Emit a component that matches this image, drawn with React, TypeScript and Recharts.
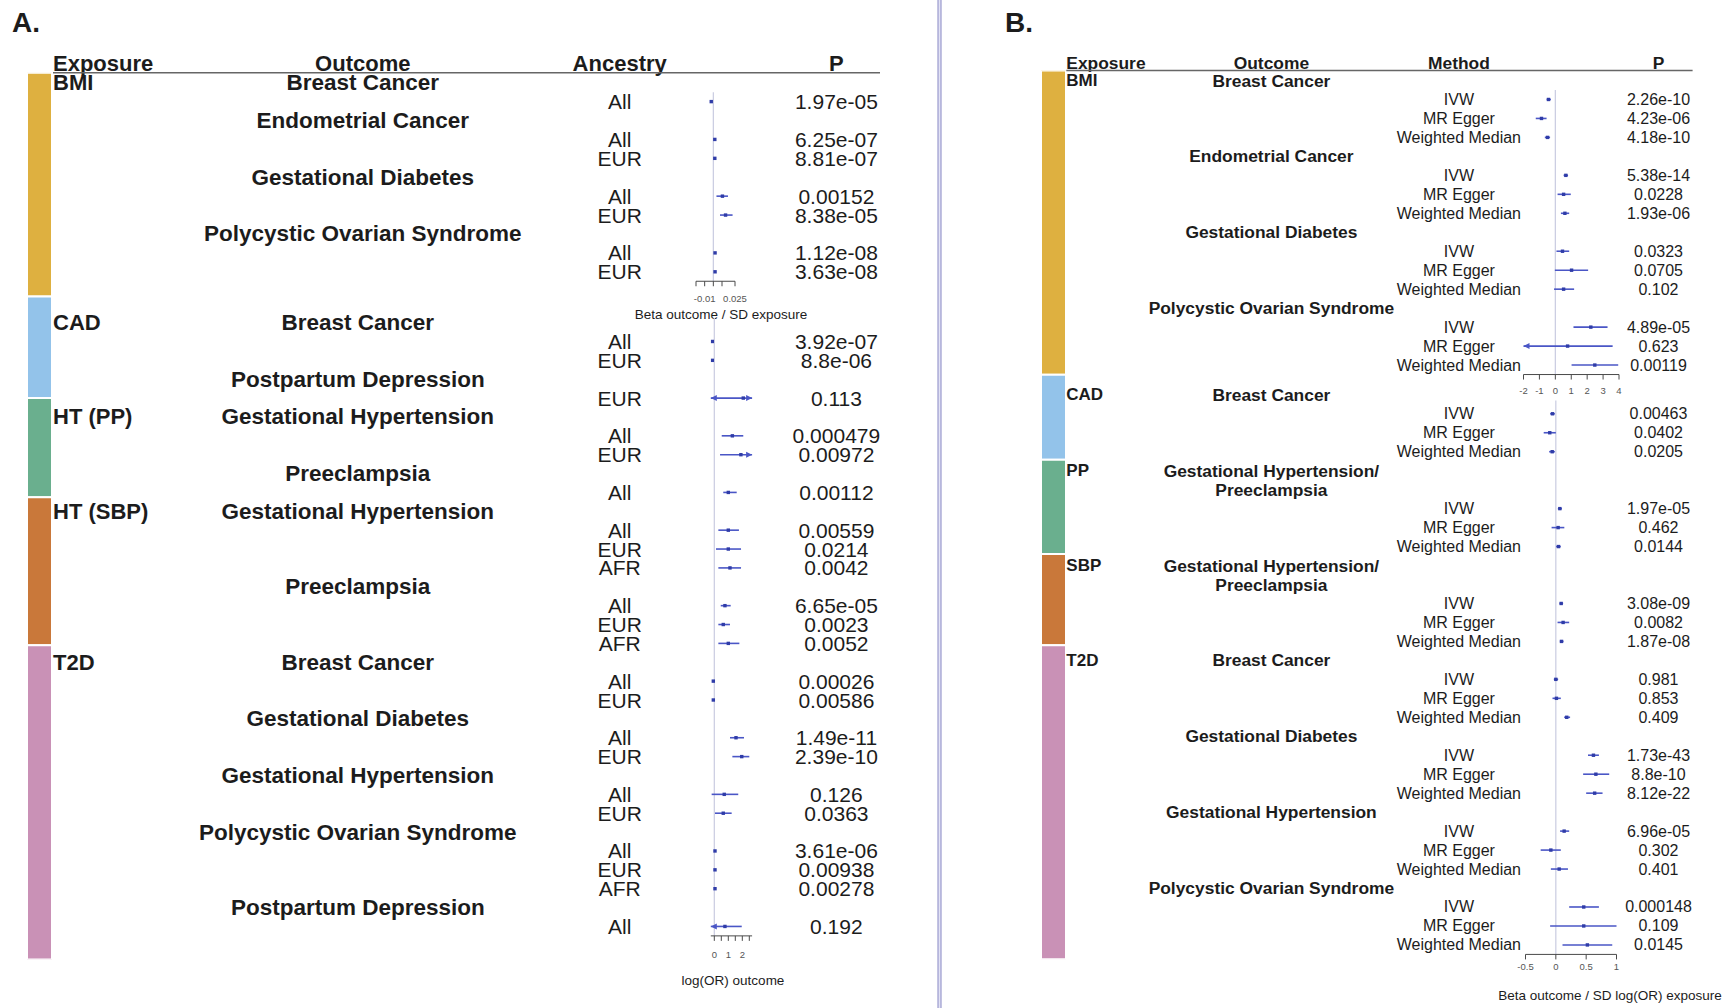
import React from 'react'
import { ScatterChart, Scatter, XAxis, YAxis, ErrorBar, ReferenceLine, BarChart, Bar } from 'recharts'

const W = 1729
const H = 1008
const FONT = '"Liberation Sans", Arial, Helvetica, sans-serif'
const INK = '#1c1c1c'
const CI_COLOR = '#4a56c6'
const DOT_COLOR = '#2f3ca8'
const ZERO_COLOR = '#c9cbe0'
const AXIS_COLOR = '#4a4a4a'

// ---- Panel A, BMI block (beta outcome / SD exposure)
const a1Labels = ['Breast Cancer', 'All', 'Endometrial Cancer', 'All', 'EUR', 'Gestational Diabetes', 'All', 'EUR', 'Polycystic Ovarian Syndrome', 'All', 'EUR']
const a1Beta = [null, -0.0024, null, 0.0017, 0.0017, null, 0.0105, 0.0141, null, 0.002, 0.002]
const a1Lo = [null, -0.0034, null, 0.0009, 0.0009, null, 0.0036, 0.0077, null, 0.0012, 0.0012]
const a1Hi = [null, -0.0014, null, 0.0025, 0.0025, null, 0.0169, 0.0222, null, 0.0028, 0.0028]
const a1P = ['', '1.97e-05', '', '6.25e-07', '8.81e-07', '', '0.00152', '8.38e-05', '', '1.12e-08', '3.63e-08']
const a1Exposure: [number, string][] = [[0, 'BMI']]
const a1Ticks = [-0.02, -0.01, 0, 0.01, 0.025]
const a1TickText = ['', '-0.01', '', '', '0.025']

// ---- Panel A, other exposures (log(OR) outcome)
const a2Labels = [
  'Breast Cancer', 'All', 'EUR', 'Postpartum Depression', 'EUR',
  'Gestational Hypertension', 'All', 'EUR', 'Preeclampsia', 'All',
  'Gestational Hypertension', 'All', 'EUR', 'AFR', 'Preeclampsia', 'All', 'EUR', 'AFR',
  'Breast Cancer', 'All', 'EUR', 'Gestational Diabetes', 'All', 'EUR',
  'Gestational Hypertension', 'All', 'EUR', 'Polycystic Ovarian Syndrome', 'All', 'EUR', 'AFR',
  'Postpartum Depression', 'All',
]
const a2Beta = [null, -0.14, -0.14, null, 2.07, null, 1.29, 1.9, null, 1.0, null, 1.0, 1.0, 1.12, null, 0.76, 0.64, 1.0, null, -0.07, -0.07, null, 1.55, 1.96, null, 0.71, 0.64, null, 0.05, 0.05, 0.05, null, 0.76]
const a2Lo = [null, -0.2, -0.2, null, -0.5, null, 0.53, 0.41, null, 0.64, null, 0.29, 0.12, 0.29, null, 0.46, 0.29, 0.29, null, -0.12, -0.13, null, 1.12, 1.29, null, -0.19, 0.05, null, 0.0, -0.01, 0.0, null, -0.6]
const a2Hi = [null, -0.08, -0.08, null, 4.6, null, 2.07, 3.4, null, 1.6, null, 1.76, 1.91, 1.91, null, 1.17, 1.12, 1.79, null, -0.02, -0.01, null, 2.12, 2.5, null, 1.71, 1.24, null, 0.1, 0.11, 0.1, null, 1.96]
const a2P = ['', '3.92e-07', '8.8e-06', '', '0.113', '', '0.000479', '0.00972', '', '0.00112', '', '0.00559', '0.0214', '0.0042', '', '6.65e-05', '0.0023', '0.0052', '', '0.00026', '0.00586', '', '1.49e-11', '2.39e-10', '', '0.126', '0.0363', '', '3.61e-06', '0.00938', '0.00278', '', '0.192']
const a2Exposure: [number, string][] = [[0, 'CAD'], [5, 'HT (PP)'], [10, 'HT (SBP)'], [18, 'T2D']]
const a2Ticks = [0, 0.5, 1, 1.5, 2, 2.5]
const a2TickText = ['0', '', '1', '', '2', '']

// ---- Panel B, BMI block
const b1Labels = ['Breast Cancer', 'IVW', 'MR Egger', 'Weighted Median', 'Endometrial Cancer', 'IVW', 'MR Egger', 'Weighted Median', 'Gestational Diabetes', 'IVW', 'MR Egger', 'Weighted Median', 'Polycystic Ovarian Syndrome', 'IVW', 'MR Egger', 'Weighted Median']
const b1Beta = [null, -0.43, -0.87, -0.49, null, 0.66, 0.52, 0.6, null, 0.45, 1.02, 0.52, null, 2.23, 0.77, 2.48]
const b1Lo = [null, -0.55, -1.23, -0.66, null, 0.52, 0.14, 0.35, null, 0.07, -0.03, -0.08, null, 1.14, -2.06, 1.02]
const b1Hi = [null, -0.28, -0.55, -0.33, null, 0.8, 0.97, 0.87, null, 0.87, 2.06, 1.18, null, 3.28, 3.6, 3.95]
const b1P = ['', '2.26e-10', '4.23e-06', '4.18e-10', '', '5.38e-14', '0.0228', '1.93e-06', '', '0.0323', '0.0705', '0.102', '', '4.89e-05', '0.623', '0.00119']
const b1Exposure: [number, string][] = [[0, 'BMI']]
const b1Ticks = [-2, -1, 0, 1, 2, 3, 4]
const b1TickText = ['-2', '-1', '0', '1', '2', '3', '4']

// ---- Panel B, other exposures
const b2Labels = [
  'Breast Cancer', 'IVW', 'MR Egger', 'Weighted Median',
  'Gestational Hypertension/', 'Preeclampsia', 'IVW', 'MR Egger', 'Weighted Median',
  'Gestational Hypertension/', 'Preeclampsia', 'IVW', 'MR Egger', 'Weighted Median',
  'Breast Cancer', 'IVW', 'MR Egger', 'Weighted Median',
  'Gestational Diabetes', 'IVW', 'MR Egger', 'Weighted Median',
  'Gestational Hypertension', 'IVW', 'MR Egger', 'Weighted Median',
  'Polycystic Ovarian Syndrome', 'IVW', 'MR Egger', 'Weighted Median',
]
const b2Beta = [null, -0.055, -0.1, -0.06, null, null, 0.066, 0.038, 0.044, null, null, 0.088, 0.12, 0.093, null, 0.0, 0.01, 0.18, null, 0.62, 0.66, 0.64, null, 0.137, -0.082, 0.055, null, 0.46, 0.46, 0.52]
const b2Lo = [null, -0.094, -0.2, -0.11, null, null, 0.033, -0.07, 0.005, null, null, 0.06, 0.028, 0.066, null, -0.033, -0.055, 0.137, null, 0.53, 0.45, 0.5, null, 0.07, -0.25, -0.082, null, 0.22, -0.094, 0.11]
const b2Hi = [null, -0.016, 0.0, -0.016, null, null, 0.1, 0.14, 0.082, null, null, 0.12, 0.22, 0.127, null, 0.038, 0.082, 0.235, null, 0.71, 0.88, 0.77, null, 0.22, 0.082, 0.2, null, 0.71, 1.0, 0.93]
const b2P = ['', '0.00463', '0.0402', '0.0205', '', '', '1.97e-05', '0.462', '0.0144', '', '', '3.08e-09', '0.0082', '1.87e-08', '', '0.981', '0.853', '0.409', '', '1.73e-43', '8.8e-10', '8.12e-22', '', '6.96e-05', '0.302', '0.401', '', '0.000148', '0.109', '0.0145']
const b2Exposure: [number, string][] = [[0, 'CAD'], [4, 'PP'], [9, 'SBP'], [14, 'T2D']]
const b2Ticks = [-0.5, 0, 0.5, 1]
const b2TickText = ['-0.5', '0', '0.5', '1']

// exposure colour bands (length in rows)
const bandColors = ['#deb040', '#93c3ea', '#6aaf8e', '#c9783a', '#c991b6']
const bandNamesA = ['BMI', 'CAD', 'HT (PP)', 'HT (SBP)', 'T2D']
const bandRowsA = [11.83, 5.37, 5.25, 7.82, 16.62]
const bandNamesB = ['BMI', 'CAD', 'PP', 'SBP', 'T2D']
const bandRowsB = [16.04, 4.48, 4.97, 4.8, 16.56]

type Block = {
  labels: string[]
  beta: (number | null)[]
  lo: (number | null)[]
  hi: (number | null)[]
  p: string[]
  exposure: [number, string][]
  ticks: number[]
  tickText: string[]
  domain: [number, number]
}

type Layout = {
  y0: number
  step: number
  height: number
  left: number
  right: number
  zeroFrom: number
  tickMargin: number
  cols: { exp: number; outcome: number; label: number; p: number }
  headSize: number
  expSize: number
  textSize: number
}

const blockA1: Block = { labels: a1Labels, beta: a1Beta, lo: a1Lo, hi: a1Hi, p: a1P, exposure: a1Exposure, ticks: a1Ticks, tickText: a1TickText, domain: [-0.02, 0.025] }
const blockA2: Block = { labels: a2Labels, beta: a2Beta, lo: a2Lo, hi: a2Hi, p: a2P, exposure: a2Exposure, ticks: a2Ticks, tickText: a2TickText, domain: [-0.25, 2.7] }
const blockB1: Block = { labels: b1Labels, beta: b1Beta, lo: b1Lo, hi: b1Hi, p: b1P, exposure: b1Exposure, ticks: b1Ticks, tickText: b1TickText, domain: [-2, 4] }
const blockB2: Block = { labels: b2Labels, beta: b2Beta, lo: b2Lo, hi: b2Hi, p: b2P, exposure: b2Exposure, ticks: b2Ticks, tickText: b2TickText, domain: [-0.5, 1] }

const colsA1 = { exp: 53, outcome: 362.8, label: 619.7, p: 836.4 }
const colsA2 = { exp: 53, outcome: 357.8, label: 619.7, p: 836.4 }
const colsB = { exp: 1066.3, outcome: 1271.4, label: 1458.9, p: 1658.5 }

const layA1: Layout = { y0: 82.7, step: 18.91, height: 330, left: 696, right: 735, zeroFrom: 0.5, tickMargin: 9, cols: colsA1, headSize: 22.5, expSize: 22, textSize: 21 }
const layA2: Layout = { y0: 322.6, step: 18.87, height: H, left: 710.8, right: 752.1, zeroFrom: -0.25, tickMargin: 10, cols: colsA2, headSize: 22.5, expSize: 22, textSize: 21 }
const layB1: Layout = { y0: 80.5, step: 18.97, height: 400, left: 1523.5, right: 1619, zeroFrom: 0.5, tickMargin: 8, cols: colsB, headSize: 17.4, expSize: 17, textSize: 16 }
const layB2: Layout = { y0: 394.8, step: 18.97, height: H, left: 1525.5, right: 1616.5, zeroFrom: 0.3, tickMargin: 4, cols: colsB, headSize: 17.4, expSize: 17, textSize: 16 }

function makeRowTick(block: Block, lay: Layout) {
  return (props: any) => {
    const i = props.payload?.value as number
    const y = props.y as number
    const exp = block.exposure.find((e) => e[0] === i)
    const isHead = block.beta[i] == null
    return (
      <g fontFamily={FONT} fill={INK}>
        {exp && (
          <text x={lay.cols.exp} y={y} fontSize={lay.expSize} fontWeight="bold" dominantBaseline="central">
            {exp[1]}
          </text>
        )}
        {isHead ? (
          <text x={lay.cols.outcome} y={y} fontSize={lay.headSize} fontWeight="bold" textAnchor="middle" dominantBaseline="central">
            {block.labels[i]}
          </text>
        ) : (
          <>
            <text x={lay.cols.label} y={y} fontSize={lay.textSize} textAnchor="middle" dominantBaseline="central">
              {block.labels[i]}
            </text>
            <text x={lay.cols.p} y={y} fontSize={lay.textSize} textAnchor="middle" dominantBaseline="central">
              {block.p[i]}
            </text>
          </>
        )}
      </g>
    )
  }
}

const dotShape = (p: any) => <rect x={p.cx - 1.7} y={p.cy - 1.7} width={3.4} height={3.4} fill={DOT_COLOR} />

const arrowShape = (p: any) => {
  const d = p.payload.dir
  return <path d={`M${p.cx} ${p.cy} L${p.cx - d * 6} ${p.cy - 3} L${p.cx - d * 6} ${p.cy + 3} Z`} fill={CI_COLOR} />
}

function Forest({ block, lay }: { block: Block; lay: Layout }) {
  const n = block.labels.length
  const plotTop = lay.y0 - lay.step / 2
  const plotBottom = plotTop + n * lay.step
  const [dmin, dmax] = block.domain
  const rows = block.labels.map((_, i) => i)

  const points = rows.flatMap((i) => {
    const b = block.beta[i]
    if (b == null) return []
    const lo = Math.max(block.lo[i] as number, dmin)
    const hi = Math.min(block.hi[i] as number, dmax)
    return [{ row: i, beta: b, err: [b - lo, hi - b] }]
  })
  const arrows = rows.flatMap((i) => {
    if (block.beta[i] == null) return []
    const out: { row: number; beta: number; dir: number }[] = []
    if ((block.lo[i] as number) < dmin) out.push({ row: i, beta: dmin, dir: -1 })
    if ((block.hi[i] as number) > dmax) out.push({ row: i, beta: dmax, dir: 1 })
    return out
  })

  return (
    <div style={{ position: 'absolute', left: 0, top: 0 }}>
      <ScatterChart width={W} height={lay.height} margin={{ top: plotTop, right: W - lay.right, bottom: 0, left: 0 }}>
        <XAxis
          type="number"
          dataKey="beta"
          domain={block.domain}
          ticks={block.ticks}
          allowDataOverflow
          interval={0}
          tickFormatter={(v: number) => block.tickText[block.ticks.indexOf(v)] ?? ''}
          height={lay.height - plotBottom}
          tickSize={5}
          tickMargin={lay.tickMargin}
          stroke={AXIS_COLOR}
          tick={{ fontSize: 9.5, fill: '#555', fontFamily: FONT }}
        />
        <YAxis
          type="number"
          dataKey="row"
          domain={[-0.5, n - 0.5]}
          reversed
          ticks={rows}
          interval={0}
          allowDataOverflow
          width={lay.left}
          axisLine={false}
          tickLine={false}
          tick={makeRowTick(block, lay)}
        />
        <ReferenceLine segment={[{ x: 0, y: lay.zeroFrom }, { x: 0, y: n - 0.5 }]} stroke={ZERO_COLOR} strokeWidth={1.2} />
        <Scatter data={points} isAnimationActive={false} shape={dotShape}>
          <ErrorBar dataKey="err" direction="x" width={0} stroke={CI_COLOR} strokeWidth={1.6} isAnimationActive={false} />
        </Scatter>
        <Scatter data={arrows} isAnimationActive={false} shape={arrowShape} />
      </ScatterChart>
    </div>
  )
}

function Bands({ names, rows, left, top, bottom }: { names: string[]; rows: number[]; left: number; top: number; bottom: number }) {
  const datum: Record<string, number | string> = { k: 'exposure' }
  names.forEach((nm, i) => (datum[nm] = rows[i]))
  const total = rows.reduce((a, b) => a + b, 0)
  return (
    <div style={{ position: 'absolute', left, top: 0 }}>
      <BarChart width={25} height={H} data={[datum]} margin={{ top, bottom: H - bottom, left: 0, right: 0 }} barCategoryGap={0} barGap={0}>
        <XAxis dataKey="k" hide />
        <YAxis type="number" domain={[0, total]} reversed hide allowDataOverflow />
        {names.map((nm, i) => (
          <Bar key={nm} dataKey={nm} stackId="s" fill={bandColors[i]} stroke="#fff" strokeWidth={2} isAnimationActive={false} />
        ))}
      </BarChart>
    </div>
  )
}

function Decor() {
  const head = { fontFamily: FONT, fill: INK, fontWeight: 'bold' as const }
  return (
    <svg width={W} height={H} style={{ position: 'absolute', left: 0, top: 0 }}>
      <text x={12} y={32} fontSize={28} {...head}>A.</text>
      <text x={1005} y={32} fontSize={28} {...head}>B.</text>

      <text x={colsA1.exp} y={71} fontSize={22} {...head}>Exposure</text>
      <text x={colsA1.outcome} y={71} fontSize={22} textAnchor="middle" {...head}>Outcome</text>
      <text x={colsA1.label} y={71} fontSize={22} textAnchor="middle" {...head}>Ancestry</text>
      <text x={colsA1.p} y={71} fontSize={22} textAnchor="middle" {...head}>P</text>
      <line x1={53} x2={880} y1={72.8} y2={72.8} stroke="#666" strokeWidth={1.5} />

      <text x={colsB.exp} y={68.5} fontSize={17.4} {...head}>Exposure</text>
      <text x={colsB.outcome} y={68.5} fontSize={17.4} textAnchor="middle" {...head}>Outcome</text>
      <text x={colsB.label} y={68.5} fontSize={17.4} textAnchor="middle" {...head}>Method</text>
      <text x={colsB.p} y={68.5} fontSize={17.4} textAnchor="middle" {...head}>P</text>
      <line x1={1066.3} x2={1692.6} y1={70.6} y2={70.6} stroke="#666" strokeWidth={1.5} />

      <g fontFamily={FONT} fill={INK} fontSize={13.5} textAnchor="middle" dominantBaseline="central">
        <text x={721} y={314}>Beta outcome / SD exposure</text>
        <text x={733} y={980}>log(OR) outcome</text>
        <text x={1610} y={995.5}>Beta outcome / SD log(OR) exposure</text>
      </g>

      <rect x={937.8} y={0} width={3.4} height={H} fill="#e2e2f4" />
      <line x1={938} x2={938} y1={0} y2={H} stroke="#8c8cc6" strokeWidth={1} />
      <line x1={941} x2={941} y1={0} y2={H} stroke="#8c8cc6" strokeWidth={1} />
    </svg>
  )
}

export default function App() {
  return (
    <div style={{ position: 'fixed', left: 0, top: 0, width: W, height: H, background: '#fff', overflow: 'hidden' }}>
      <Decor />
      <Bands names={bandNamesA} rows={bandRowsA} left={27} top={72.8} bottom={959.5} />
      <Bands names={bandNamesB} rows={bandRowsB} left={1041} top={70.6} bottom={959.3} />
      <Forest block={blockA1} lay={layA1} />
      <Forest block={blockA2} lay={layA2} />
      <Forest block={blockB1} lay={layB1} />
      <Forest block={blockB2} lay={layB2} />
    </div>
  )
}
